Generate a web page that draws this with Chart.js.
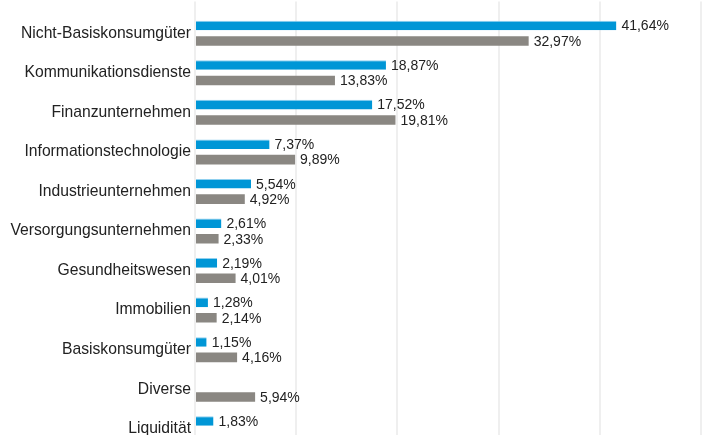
<!DOCTYPE html>
<html>
<head>
<meta charset="utf-8">
<script src="https://cdn.jsdelivr.net/npm/chart.js@4.4.1/dist/chart.umd.min.js"></script>
<style>
  html, body { margin: 0; padding: 0; background: #fff; }
  #wrap { width: 716px; height: 435px; overflow: hidden; position: relative; }
  #myChart { position: absolute; left: 0; top: 0; }
</style>
</head>
<body>
<div id="wrap"><canvas id="myChart" width="716" height="462"></canvas></div>
<script>
const categories = [
  'Nicht-Basiskonsumgüter', 'Kommunikationsdienste', 'Finanzunternehmen',
  'Informationstechnologie', 'Industrieunternehmen', 'Versorgungsunternehmen',
  'Gesundheitswesen', 'Immobilien', 'Basiskonsumgüter', 'Diverse', 'Liquidität'
];
const fundValues = [41.64, 18.87, 17.52, 7.37, 5.54, 2.61, 2.19, 1.28, 1.15, null, 1.83];
const benchValues = [32.97, 13.83, 19.81, 9.89, 4.92, 2.33, 4.01, 2.14, 4.16, 5.94, null];
const xTicks = [0, 10, 20, 30, 40, 50];

const ctx = document.getElementById('myChart').getContext('2d');

// simple value labels next to each bar, German decimal comma
const barLabels = {
  id: 'barLabels',
  afterDatasetsDraw(chart) {
    const c = chart.ctx;
    c.save();
    c.font = '14px "Liberation Sans", Arial, sans-serif';
    c.fillStyle = '#222';
    c.textBaseline = 'middle';
    c.textAlign = 'left';
    chart.data.datasets.forEach((ds, i) => {
      chart.getDatasetMeta(i).data.forEach((bar, j) => {
        const v = ds.data[j];
        if (v == null) return;
        c.fillText(v.toFixed(2).replace('.', ',') + '%', bar.x + 5, bar.y + 1);
      });
    });
    c.restore();
  }
};

new Chart(ctx, {
  type: 'bar',
  data: {
    labels: categories,
    datasets: [
      { label: 'Fonds', data: fundValues, backgroundColor: '#0096d6',
        borderColor: '#8fd0ef', borderWidth: { top: 1 }, borderSkipped: false,
        categoryPercentage: 0.78, barPercentage: 0.62 },
      { label: 'Vergleich', data: benchValues, backgroundColor: '#8a8782',
        borderWidth: 0, categoryPercentage: 0.78, barPercentage: 0.62 }
    ]
  },
  options: {
    indexAxis: 'y',
    responsive: false,
    animation: false,
    events: [],
    layout: { padding: { left: 0, right: 15, top: 0, bottom: 0 } },
    plugins: { legend: { display: false }, tooltip: { enabled: false } },
    scales: {
      x: {
        position: 'top',
        min: xTicks[0],
        max: xTicks[xTicks.length - 1],
        afterBuildTicks: (axis) => { axis.ticks = xTicks.map(v => ({ value: v })); },
        ticks: { display: false },
        grid: { color: '#efefef', lineWidth: 2, tickLength: 12, drawTicks: true },
        border: { display: false }
      },
      y: {
        afterFit: (axis) => { axis.width = 195; },
        ticks: {
          color: '#222',
          padding: 4,
          font: { family: '"Liberation Sans", Arial, sans-serif', size: 15.7 }
        },
        grid: { display: false, drawTicks: false },
        border: { display: false }
      }
    }
  },
  plugins: [barLabels]
});
</script>
</body>
</html>
